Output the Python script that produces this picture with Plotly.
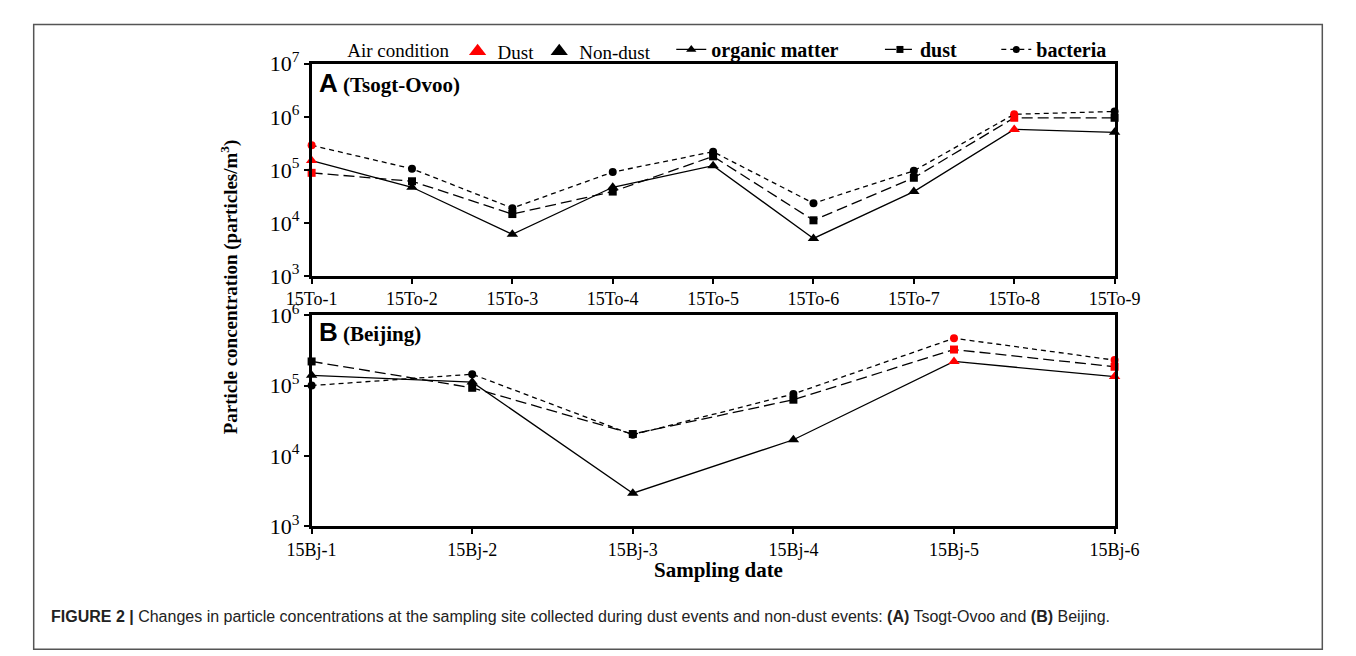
import math
import plotly.graph_objects as go

W, H = 1356, 656

# ---------------- data ----------------
sites_A = ["15To-1", "15To-2", "15To-3", "15To-4", "15To-5", "15To-6", "15To-7", "15To-8", "15To-9"]
organic_A = [1.5e5, 4.7e4, 6.1e3, 4.7e4, 1.2e5, 5.1e3, 3.9e4, 5.8e5, 5.1e5]
dust_A = [8.8e4, 6.1e4, 1.47e4, 3.9e4, 1.8e5, 1.12e4, 7.1e4, 9.6e5, 9.6e5]
bacteria_A = [2.9e5, 1.05e5, 1.9e4, 9.1e4, 2.2e5, 2.35e4, 9.6e4, 1.12e6, 1.26e6]
cond_A = ["Dust", "Non-dust", "Non-dust", "Non-dust", "Non-dust", "Non-dust", "Non-dust", "Dust", "Non-dust"]

sites_B = ["15Bj-1", "15Bj-2", "15Bj-3", "15Bj-4", "15Bj-5", "15Bj-6"]
organic_B = [1.4e5, 1.12e5, 2.96e3, 1.7e4, 2.2e5, 1.34e5]
dust_B = [2.2e5, 9.3e4, 2.05e4, 6.3e4, 3.25e5, 1.85e5]
bacteria_B = [1.0e5, 1.45e5, 2.0e4, 7.6e4, 4.7e5, 2.3e5]
cond_B = ["Non-dust", "Non-dust", "Non-dust", "Non-dust", "Dust", "Dust"]

ytick_A = [1e3, 1e4, 1e5, 1e6, 1e7]
ytick_B = [1e3, 1e4, 1e5, 1e6]

cond_colors = {"Dust": "#ff0000", "Non-dust": "#000000"}
SERIF = "Liberation Serif"
SANS = "Liberation Sans"

series_style = {
    "organic": dict(dash="solid", symbol="triangle-up", size=10),
    "dust": dict(dash="11px,5px", symbol="square", size=8),
    "bacteria": dict(dash="5px,4px", symbol="circle", size=8),
}

fig = go.Figure()

def add_panel(sites, series, cond, xa, ya):
    colors = [cond_colors[c] for c in cond]
    for key, vals in series:
        st = series_style[key]
        fig.add_trace(go.Scatter(
            x=sites, y=vals, mode="lines+markers", showlegend=False,
            xaxis=xa, yaxis=ya, cliponaxis=False,
            line=dict(color="black", width=1.3, dash=st["dash"]),
            marker=dict(symbol=st["symbol"], size=st["size"], color=colors, line=dict(width=0)),
        ))

add_panel(sites_A, [("organic", organic_A), ("dust", dust_A), ("bacteria", bacteria_A)], cond_A, "x", "y")
add_panel(sites_B, [("organic", organic_B), ("dust", dust_B), ("bacteria", bacteria_B)], cond_B, "x2", "y2")

# legend-only traces
fig.add_trace(go.Scatter(x=[None], y=[None], mode="markers", name="Dust", legend="legend",
                         marker=dict(symbol="triangle-up", size=15, color="#ff0000")))
fig.add_trace(go.Scatter(x=[None], y=[None], mode="markers", name="Non-dust", legend="legend",
                         marker=dict(symbol="triangle-up", size=15, color="#000000")))
leg_names = {"organic": "<b>organic matter</b>", "dust": "<b>dust</b>", "bacteria": "<b>bacteria</b>"}
for i, key in enumerate(["organic", "dust", "bacteria"]):
    st = series_style[key]
    fig.add_trace(go.Scatter(x=[None], y=[None], mode="lines+markers", name=leg_names[key],
                             legend=f"legend{i+2}",
                             line=dict(color="black", width=1.3, dash=st["dash"]),
                             marker=dict(symbol=st["symbol"], size=st["size"] - 1, color="black")))

def px_x(v):
    return v / W

def px_y(v):
    return 1 - v / H

def pow_labels(vals):
    return [f"10<sup>{int(round(math.log10(v)))}</sup>" for v in vals]

axis_common = dict(showline=True, linecolor="black", linewidth=2.5, mirror=True,
                   ticks="outside", ticklen=5, tickwidth=1.5, tickcolor="black",
                   showgrid=False, zeroline=False)

fig.update_layout(
    width=W, height=H, margin=dict(l=0, r=0, t=0, b=0),
    paper_bgcolor="white", plot_bgcolor="white",
    xaxis=dict(domain=[px_x(297), px_x(1132)], anchor="y", type="category", range=[0, 8],
               tickfont=dict(family=SERIF, size=18, color="black"), **axis_common),
    yaxis=dict(domain=[px_y(272), px_y(50)], anchor="x", type="log", range=[3, 7],
               tickvals=ytick_A, ticktext=pow_labels(ytick_A),
               tickfont=dict(family=SERIF, size=22, color="black"), **axis_common),
    xaxis2=dict(domain=[px_x(297), px_x(1132)], anchor="y2", type="category", range=[0, 5],
                tickfont=dict(family=SERIF, size=18, color="black"), **axis_common),
    yaxis2=dict(domain=[px_y(534), px_y(313)], anchor="x2", type="log", range=[3, 6],
                tickvals=ytick_B, ticktext=pow_labels(ytick_B),
                tickfont=dict(family=SERIF, size=22, color="black"), **axis_common),
    legend=dict(orientation="h", x=px_x(332), y=px_y(37), xanchor="left", yanchor="middle",
                bgcolor="rgba(0,0,0,0)", font=dict(family=SERIF, size=19, color="black"),
                title=dict(text="Air condition", font=dict(family=SERIF, size=19, color="black"), side="left"),
                itemwidth=30, tracegroupgap=0),
    legend2=dict(orientation="h", x=px_x(671), y=px_y(35), xanchor="left", yanchor="middle",
                 bgcolor="rgba(0,0,0,0)", font=dict(family=SERIF, size=20, color="black"), itemwidth=30),
    legend3=dict(orientation="h", x=px_x(888), y=px_y(35), xanchor="left", yanchor="middle",
                 bgcolor="rgba(0,0,0,0)", font=dict(family=SERIF, size=20, color="black"), itemwidth=30),
    legend4=dict(orientation="h", x=px_x(1009), y=px_y(35), xanchor="left", yanchor="middle",
                 bgcolor="rgba(0,0,0,0)", font=dict(family=SERIF, size=20, color="black"), itemwidth=30),
    showlegend=True,
)

# outer figure frame
fig.add_shape(type="rect", xref="paper", yref="paper", x0=px_x(8), x1=px_x(1348), y0=-0.01, y1=px_y(9),
              line=dict(color="#555555", width=1.5), fillcolor="rgba(0,0,0,0)", layer="below")

annotations = [
    dict(text="<span style='font-family:Liberation Sans;font-size:26px'><b>A</b></span><b> (Tsogt-Ovoo)</b>",
         x=px_x(303), y=px_y(70), xanchor="left", yanchor="middle",
         font=dict(family=SERIF, size=21, color="black")),
    dict(text="<span style='font-family:Liberation Sans;font-size:26px'><b>B</b></span><b> (Beijing)</b>",
         x=px_x(303), y=px_y(331), xanchor="left", yanchor="middle",
         font=dict(family=SERIF, size=21, color="black")),
    dict(text="<b>Particle concentration (particles/m<sup>3</sup>)</b>", textangle=-90,
         x=px_x(212), y=px_y(283), xanchor="center", yanchor="middle",
         font=dict(family=SERIF, size=19, color="black")),
    dict(text="<b>Sampling date</b>", x=px_x(720), y=px_y(580), xanchor="center", yanchor="middle",
         font=dict(family=SERIF, size=21, color="black")),
    dict(text="<b>FIGURE 2 |</b> Changes in particle concentrations at the sampling site collected during dust events and non-dust events: <b>(A)</b> Tsogt-Ovoo and <b>(B)</b> Beijing.",
         x=px_x(24), y=px_y(628), xanchor="left", yanchor="middle",
         font=dict(family=SANS, size=16, color="#222222")),
]
for a in annotations:
    a.update(xref="paper", yref="paper", showarrow=False)
    fig.add_annotation(**a)

fig.write_html("out.html")

# make sure the page itself adds no margin/scrollbars around the fixed-size figure
with open("out.html", "r", encoding="utf-8") as f:
    html = f.read()
html = html.replace("<head>", "<head><style>html,body{margin:0;padding:0;overflow:hidden;}</style>", 1)
with open("out.html", "w", encoding="utf-8") as f:
    f.write(html)
